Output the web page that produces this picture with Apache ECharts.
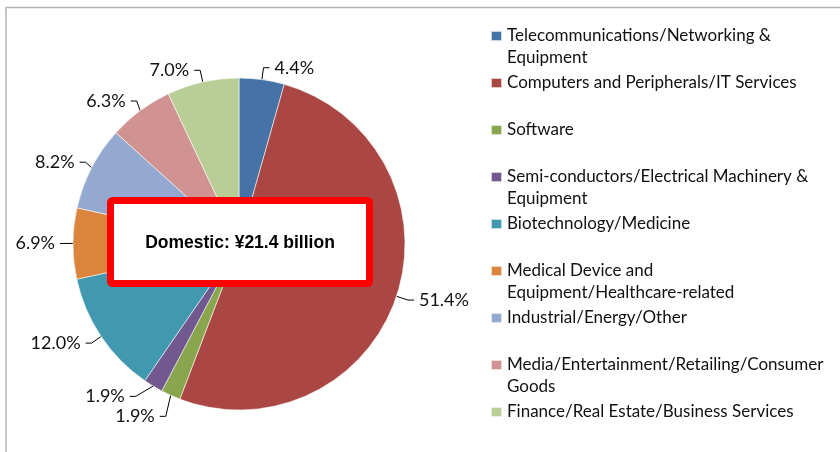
<!DOCTYPE html>
<html>
<head>
<meta charset="utf-8">
<style>
  html, body { margin: 0; padding: 0; background: #fff; }
  #chart { width: 840px; height: 452px; }
</style>
<script src="https://cdn.jsdelivr.net/npm/echarts@6/dist/echarts.min.js"></script>
</head>
<body>
<div id="chart"></div>
<script>
// Investment share by industry (domestic), percent
const categories = [
  'Telecommunications/Networking & Equipment',
  'Computers and Peripherals/IT Services',
  'Software',
  'Semi-conductors/Electrical Machinery & Equipment',
  'Biotechnology/Medicine',
  'Medical Device and Equipment/Healthcare-related',
  'Industrial/Energy/Other',
  'Media/Entertainment/Retailing/Consumer Goods',
  'Finance/Real Estate/Business Services'
];
const shares = [4.4, 51.4, 1.9, 1.9, 12.0, 6.9, 8.2, 6.3, 7.0];
const colors = ['#4572A7', '#AA4643', '#89A54E', '#71588F', '#4198AF',
                '#DB843D', '#93A9CF', '#D19392', '#B9CD96'];
const totalLabel = 'Domestic: ¥21.4 billion';

// Legend line breaks (text after which the label wraps)
const legendWrap = {
  'Telecommunications/Networking & Equipment': 'Telecommunications/Networking &',
  'Semi-conductors/Electrical Machinery & Equipment': 'Semi-conductors/Electrical Machinery &',
  'Medical Device and Equipment/Healthcare-related': 'Medical Device and',
  'Media/Entertainment/Retailing/Consumer Goods': 'Media/Entertainment/Retailing/Consumer'
};

const FONT = 'Lato';

function legendText(name) {
  const head = legendWrap[name];
  // every entry is three lines: an empty one, then two text lines,
  // so the swatch sits beside the first text line
  if (head) return '\n' + head + '\n' + name.slice(head.length + 1);
  return '\n' + name + '\n ';
}

const chart = echarts.init(document.getElementById('chart'), null, { renderer: 'canvas' });

chart.setOption({
  backgroundColor: '#fff',
  animation: false,
  color: colors,
  legend: {
    orient: 'vertical',
    left: 490,
    top: 3,
    padding: 0,
    itemGap: -19,
    itemWidth: 11,
    itemHeight: 10,
    icon: 'rect',
    selectedMode: false,
    formatter: legendText,
    textStyle: { fontFamily: FONT, fontSize: 17, lineHeight: 22, color: '#111' },
    data: categories
  },
  graphic: [
    // outer frame
    { type: 'polyline', z: 0, silent: true,
      shape: { points: [[6, 452], [6, 7.5], [840, 7.5]] },
      style: { stroke: '#b4b4b4', lineWidth: 1.5, fill: null } },
    // highlighted total box over the pie
    { type: 'rect', z: 100, silent: true,
      shape: { x: 110.5, y: 200.5, width: 259, height: 83, r: 2 },
      style: { fill: '#fff', stroke: '#ff0000', lineWidth: 7 } },
    { type: 'text', z: 101, silent: true, x: 240, y: 243,
      style: { text: totalLabel, align: 'center', verticalAlign: 'middle',
               font: 'bold 17.5px "Liberation Sans", Arial, sans-serif', fill: '#000' } }
  ],
  series: [{
    type: 'pie',
    center: [239, 244],
    radius: [0, 166],
    startAngle: 90,
    clockwise: true,
    avoidLabelOverlap: true,
    itemStyle: { borderColor: 'rgba(255,255,255,0.7)', borderWidth: 0.8 },
    label: {
      show: true,
      position: 'outside',
      formatter: p => p.value.toFixed(1) + '%',
      fontFamily: FONT, fontSize: 18, color: '#111'
    },
    labelLine: {
      show: true, length: 12, length2: 6,
      lineStyle: { color: '#000', width: 1 }
    },
    emphasis: { disabled: true },
    data: categories.map((name, i) => ({ name, value: shares[i] }))
  }]
});
</script>
</body>
</html>
